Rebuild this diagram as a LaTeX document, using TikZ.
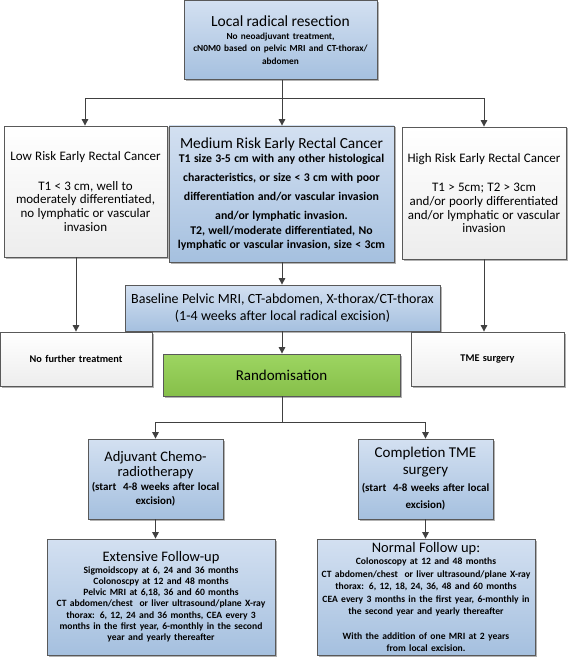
\documentclass[tikz,border=0pt]{standalone}
\usepackage{fontspec}
\setmainfont{Carlito}
\usetikzlibrary{arrows.meta,shadows}
\definecolor{bluetop}{HTML}{D3E0F1}
\definecolor{bluebot}{HTML}{A5C0DF}
\definecolor{edgegray}{HTML}{595959}
\definecolor{linegray}{HTML}{404040}
\definecolor{greenfill}{HTML}{92D050}
\definecolor{whitebot}{HTML}{EDEDED}
\setlength{\parskip}{0pt}
\begin{document}
\begin{tikzpicture}[x=1pt,y=-1pt,
  box/.style={draw=edgegray, line width=0.8pt, inner sep=2pt, align=center, text=black,
    drop shadow={shadow xshift=1.5pt, shadow yshift=-1.5pt, opacity=0.3, fill=black}},
  bluebox/.style={box, top color=bluetop, bottom color=bluebot},
  whitebox/.style={box, top color=white, bottom color=whitebot},
  greenbox/.style={box, top color=greenfill!90!white, bottom color=greenfill!92!black},
  arr/.style={draw=linegray, line width=1pt, -{Triangle[length=6.5pt,width=6.5pt]}},
  link/.style={draw=linegray, line width=1pt}]
\useasboundingbox (0,0) rectangle (568,658);

\node[bluebox, minimum width=191pt, text width=189pt, minimum height=79pt] (top) at (280.5,40)
  {\fontsize{15.5}{16}\selectfont Local radical resection\par
   \fontsize{9.3}{12.5}\selectfont\bfseries No neoadjuvant treatment,\\
   cN0M0 based on pelvic MRI and CT-thorax/\\ abdomen\par};

\node[whitebox, minimum width=163pt, text width=159pt, minimum height=131pt] (low) at (85.5,191.5)
  {\fontsize{13}{13.7}\selectfont Low Risk Early Rectal Cancer\\[16pt]
   T1 < 3 cm, well to\\ moderately differentiated,\\ no lymphatic or vascular\\ invasion\par};

\node[bluebox, minimum width=223pt, text width=221pt, minimum height=136pt] (med) at (281.5,194)
  {\fontsize{15.4}{16}\selectfont Medium Risk Early Rectal Cancer\par
   \fontsize{11.8}{14.5}\selectfont\bfseries T1 size 3-5 cm with any other histological\\[4.5pt]
   characteristics, or size < 3 cm with poor\\[4.5pt]
   differentiation and/or vascular invasion\\[4.5pt]
   and/or lymphatic invasion.\\
   T2, well/moderate differentiated, No\\
   lymphatic or vascular invasion, size < 3cm\par};

\node[whitebox, minimum width=164pt, text width=160pt, minimum height=132pt] (high) at (484,193)
  {\fontsize{13}{13.7}\selectfont High Risk Early Rectal Cancer\\[16pt]
   T1 > 5cm; T2 > 3cm\\ and/or poorly differentiated\\ and/or lymphatic or vascular\\ invasion\par};

\node[bluebox, minimum width=315pt, text width=311pt, minimum height=46pt] (base) at (282.5,308)
  {\fontsize{14}{17.5}\selectfont Baseline Pelvic MRI, CT-abdomen, X-thorax/CT-thorax\\
   (1-4 weeks after local radical excision)\par};

\node[whitebox, minimum width=152pt, text width=148pt, minimum height=54pt] (nof) at (76,359)
  {\fontsize{10.3}{12}\selectfont\bfseries No further treatment\par};
\node[whitebox, minimum width=153pt, text width=149pt, minimum height=54pt] (tme) at (487.5,359)
  {\fontsize{10.3}{12}\selectfont\bfseries TME surgery\par};

\node[greenbox, minimum width=237pt, text width=233pt, minimum height=42pt] (rand) at (281.5,375)
  {\fontsize{15}{16}\selectfont Randomisation\par};

\node[bluebox, minimum width=135pt, text width=131pt, minimum height=80pt] (adj) at (155.5,479)
  {\fontsize{14.5}{15}\selectfont Adjuvant Chemo-\\ radiotherapy\par
   \fontsize{11}{14}\selectfont\bfseries (start\ \ 4-8 weeks after local\\ excision)\par};
\node[bluebox, minimum width=135pt, text width=131pt, minimum height=80pt] (comp) at (425.5,479)
  {\fontsize{15}{17}\selectfont Completion TME\\ surgery\par
   \fontsize{11}{17}\selectfont\bfseries (start\ \ 4-8 weeks after local\\ excision)\par};

\node[bluebox, minimum width=228pt, text width=224pt, minimum height=116pt] (ext) at (161,597)
  {\fontsize{14.5}{15}\selectfont Extensive Follow-up\par
   \fontsize{9.6}{11.3}\selectfont\bfseries Sigmoidscopy at 6, 24 and 36 months\\
   Colonoscpy at 12 and 48 months\\
   Pelvic MRI at 6,18, 36 and 60 months\\
   CT abdomen/chest\ \ or liver ultrasound/plane X-ray\\
   thorax: 6, 12, 24 and 36 months, CEA every 3\\
   months in the first year, 6-monthly in the second\\
   year and yearly thereafter\par};

\node[bluebox, minimum width=218pt, text width=214pt, minimum height=116pt] (norm) at (426,597)
  {\fontsize{14.5}{15}\selectfont Normal Follow up:\par
   \fontsize{9.6}{12.4}\selectfont\bfseries Colonoscopy at 12 and 48 months\\
   CT abdomen/chest\ \ or liver ultrasound/plane X-ray\\
   thorax: 6, 12, 18, 24, 36, 48 and 60 months\\
   CEA every 3 months in the first year, 6-monthly in\\
   the second year and yearly thereafter\\[12.4pt]
   With the addition of one MRI at 2 years\\
   from local excision.\par};

\coordinate (bus) at (282,99);
\coordinate (split) at (282,422);

\draw[arr] (top.south -| bus) -- (bus |- med.north);
\draw[arr] (bus) -| (85,0 |- low.north);
\draw[arr] (bus) -| (484,0 |- high.north);
\draw[arr] (nof.north |- low.south) -- (nof.north);
\draw[arr] (high.south) -- (high.south |- tme.north);
\draw[arr] (bus |- med.south) -- (bus |- base.north);
\draw[arr] (bus |- base.south) -- (bus |- rand.north);
\draw[link] (bus |- rand.south) -- (split);
\draw[arr] (split) -| (adj.north);
\draw[arr] (split) -| (comp.north);
\draw[arr] (adj.south) -- (adj.south |- ext.north);
\draw[arr] (comp.south) -- (comp.south |- norm.north);
\end{tikzpicture}
\end{document}
